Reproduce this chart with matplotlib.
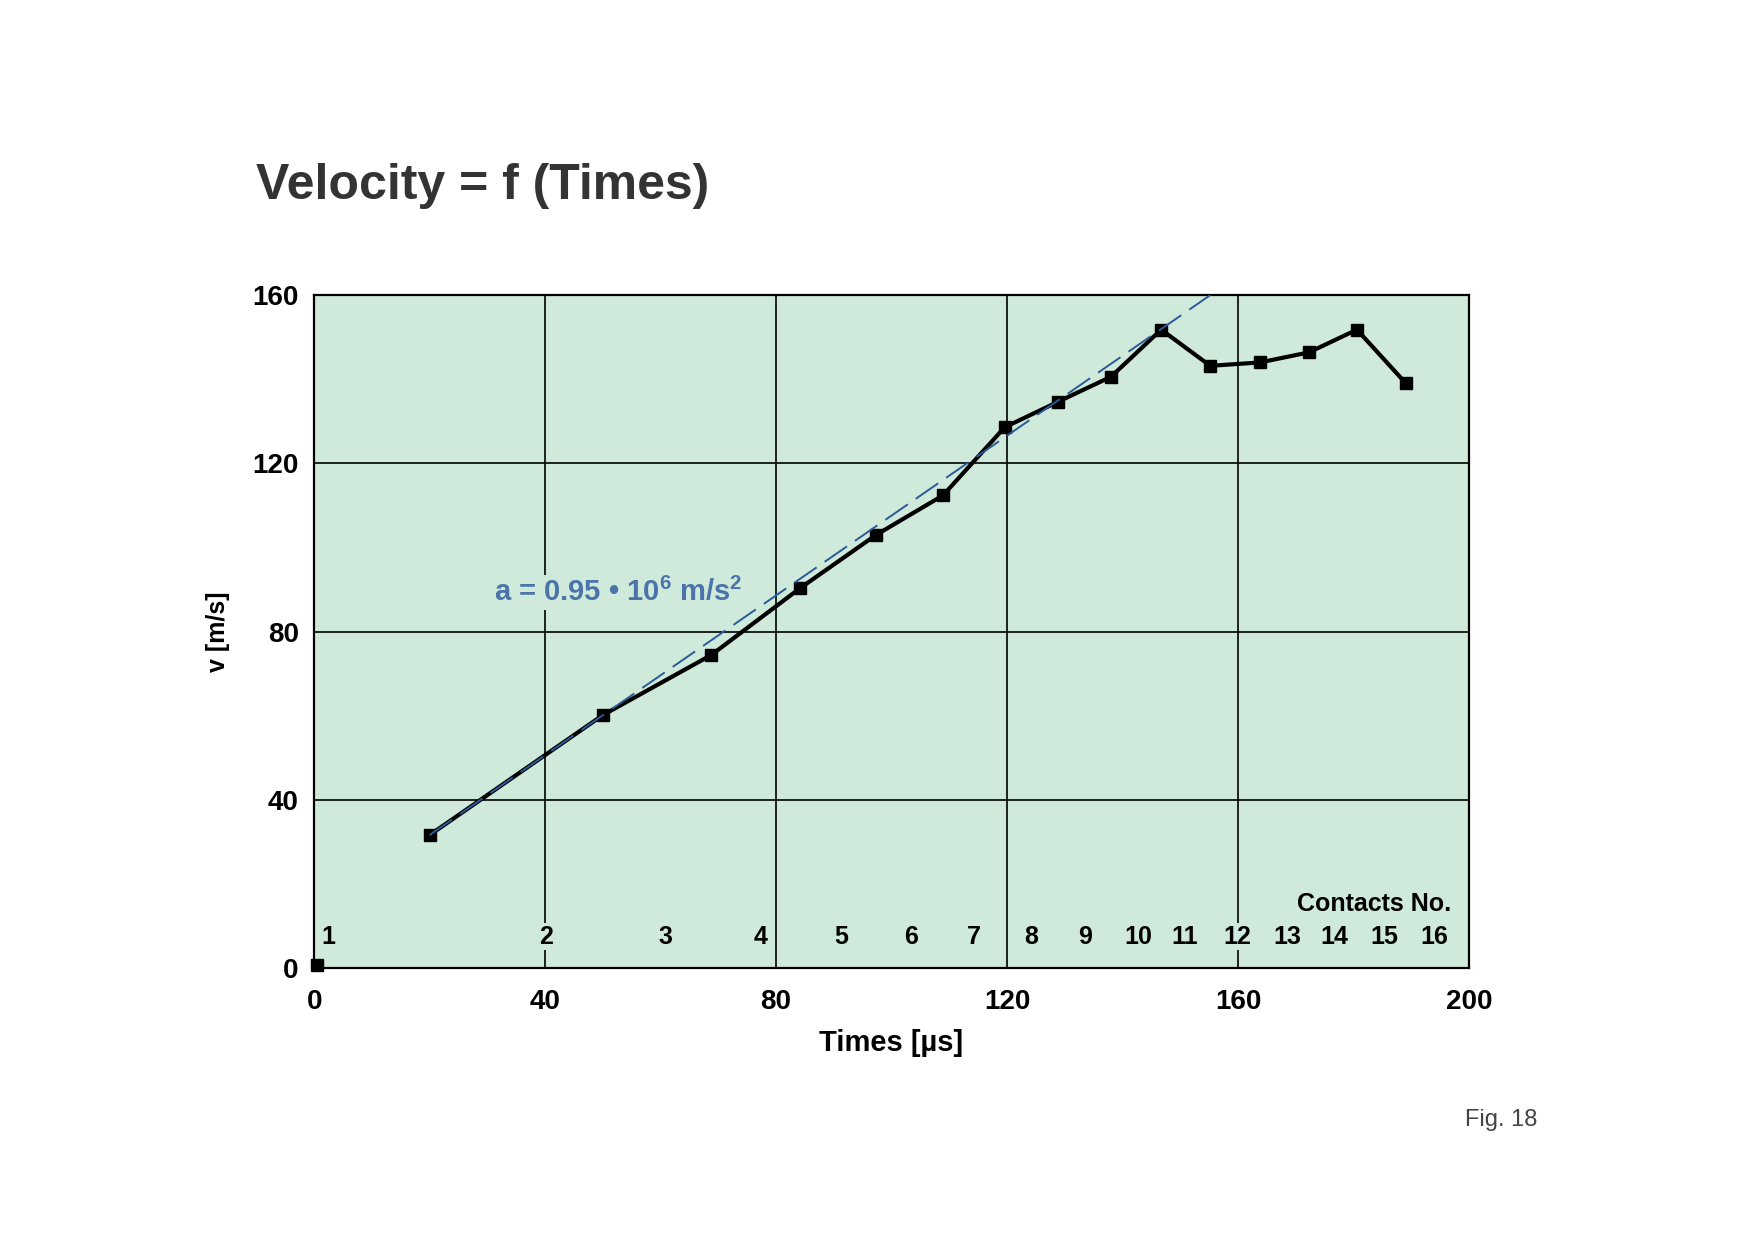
"""
Velocity = f (Times) -- contact measurement of projectile velocity (Fig. 18)
"""

import matplotlib.pyplot as plt

plt.rcParams['font.family'] = ['Liberation Sans', 'DejaVu Sans']
plt.rcParams['mathtext.fontset'] = 'custom'
plt.rcParams['mathtext.rm'] = 'Liberation Sans:bold'
plt.rcParams['mathtext.default'] = 'rm'

# --- data ---
# start point (contact 1), drawn on its own
start_t = [0.5]
start_v = [0.8]

times_us = [20, 50, 68.8, 84.1, 97.3, 108.9, 119.6, 128.9, 138.0,
            146.7, 155.2, 163.8, 172.3, 180.6, 189.1]
velocity = [31.7, 60.2, 74.5, 90.3, 103.0, 112.4, 128.6, 134.7, 140.6,
            151.8, 143.2, 144.0, 146.4, 151.8, 139.0]

# linear fit a = 0.95e6 m/s^2 (endpoints)
fit_t = [20, 155.2]
fit_v = [31.7, 160]

contact_no = [str(i) for i in range(1, 17)]
contact_x = [2.5, 40.1, 60.8, 77.3, 91.3, 103.3, 114.3, 124.2, 133.5,
             142.8, 150.8, 159.9, 168.5, 176.6, 185.3, 194.0]

x_ticks = [0, 40, 80, 120, 160, 200]
y_ticks = [0, 40, 80, 120, 160]

BG = '#cfe9db'
BLUE_LINE = '#2b5a96'
BLUE_TEXT = '#4a74aa'

fig = plt.figure(figsize=(17.55, 12.4), dpi=100)
ax = fig.add_axes([0.179, 0.219, 0.658, 0.543])
ax.set_facecolor(BG)

# --- data ---
ax.plot(times_us, velocity, color='black', linewidth=3.0, marker='s',
        markersize=9, zorder=4)
ax.plot(start_t, start_v, color='black', linestyle='none', marker='s',
        markersize=9, zorder=4, clip_on=False)
ax.plot(fit_t, fit_v, color=BLUE_LINE, linewidth=1.4, dashes=(14, 5), zorder=5)

ax.text(31.2, 89.3, r'a = 0.95 • 10$^{6}$ m/s$^{2}$', color=BLUE_TEXT,
        fontsize=21, fontweight='bold', ha='left', va='center', zorder=2.5,
        bbox=dict(facecolor=BG, edgecolor='none', pad=2))

# contact numbers along the bottom
for lab, cx in zip(contact_no, contact_x):
    ax.text(cx, 7.5, lab, fontsize=18, fontweight='bold', ha='center',
            va='center', zorder=2.5,
            bbox=dict(facecolor=BG, edgecolor='none', pad=1))
ax.text(196.9, 15.2, 'Contacts No.', fontsize=18, fontweight='bold',
        ha='right', va='center', zorder=2.5)

# --- axes styling ---
ax.set_xlim(0, 200)
ax.set_ylim(0, 160)
ax.set_xticks(x_ticks)
ax.set_yticks(y_ticks)
ax.tick_params(length=0, labelsize=20)
ax.tick_params(axis='x', pad=15)
ax.tick_params(axis='y', pad=11)
for lbl in ax.get_xticklabels() + ax.get_yticklabels():
    lbl.set_fontweight('bold')

ax.grid(True, color='black', linewidth=1.2)
ax.set_axisbelow(True)
for sp in ax.spines.values():
    sp.set_linewidth(1.6)
    sp.set_color('black')

ax.set_xlabel('Times [µs]', fontsize=21, fontweight='bold', labelpad=10)
ax.set_ylabel('v [m/s]', fontsize=18, fontweight='bold', labelpad=16)

fig.text(0.146, 0.85, 'Velocity = f (Times)', fontsize=36, fontweight='bold',
         color='#333333', ha='left', va='center')
fig.text(0.876, 0.097, 'Fig. 18', fontsize=17, color='#444444',
         ha='right', va='center')

fig.savefig('out.png', dpi=100, facecolor='white')
